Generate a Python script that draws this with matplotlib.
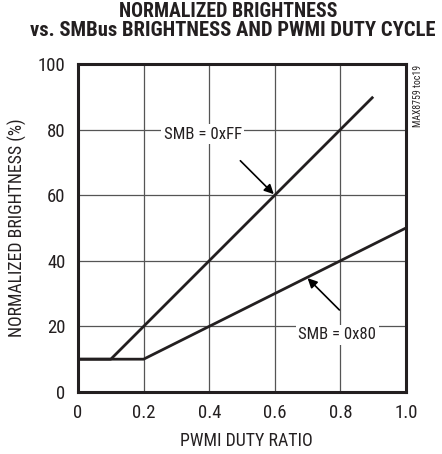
import os
import matplotlib
matplotlib.use('Agg')
import matplotlib.pyplot as plt
from matplotlib import font_manager
from matplotlib.font_manager import FontProperties

# data
duty = [0.0, 0.1, 0.2, 0.4, 0.6, 0.8, 0.9, 1.0]
smb_ff = [10, 10, 20, 40, 60, 80, 90, None]
smb_80 = [10, 10, 10, 20, 30, 40, 45, 50]
x_ticks = [0, 0.2, 0.4, 0.6, 0.8, 1.0]
x_tick_labels = ['0', '0.2', '0.4', '0.6', '0.8', '1.0']
y_ticks = [0, 20, 40, 60, 80, 100]


def find_font(basenames):
    files = {os.path.basename(f.fname): f.fname for f in font_manager.fontManager.ttflist}
    for b in basenames:
        if b in files:
            return files[b]
    return None

reg_file = find_font(['LiberationSansNarrow-Regular.ttf', 'RobotoCondensed-Regular.ttf',
                      'Roboto_Condensed-Regular.ttf', 'DejaVuSansCondensed.ttf',
                      'OpenSans_Condensed-Regular.ttf'])
bold_file = find_font(['RobotoCondensed-Black.ttf', 'RobotoCondensed-ExtraBold.ttf',
                       'LiberationSansNarrow-Bold.ttf', 'RobotoCondensed-Bold.ttf',
                       'Roboto_Condensed-Bold.ttf', 'DejaVuSansCondensed-Bold.ttf',
                       'OpenSans_Condensed-Bold.ttf'])


def fp(size, bold=False):
    f = bold_file if bold else reg_file
    if f:
        return FontProperties(fname=f, size=size)
    return FontProperties(family='DejaVu Sans', size=size, weight='bold' if bold else 'normal')

ink = '#231f20'
fig = plt.figure(figsize=(4.42, 4.54), dpi=100)
ax = fig.add_axes([0.1765, 0.1366, 0.742, 0.7225])

ff_x = [x for x, y in zip(duty, smb_ff) if y is not None]
ff_y = [y for y in smb_ff if y is not None]
ax.plot(ff_x, ff_y, color=ink, lw=2.0, zorder=3, solid_capstyle='butt')
ax.plot(duty, smb_80, color=ink, lw=2.0, zorder=3, solid_capstyle='butt')

ax.set_xlim(0, 1.0)
ax.set_ylim(0, 100)
ax.set_xticks(x_ticks)
ax.set_xticklabels(x_tick_labels)
ax.set_yticks(y_ticks)
ax.grid(True, color='#555555', lw=0.9)
ax.tick_params(length=0, pad=9, colors=ink)
for lab in ax.get_xticklabels() + ax.get_yticklabels():
    lab.set_fontproperties(fp(13.5))
for s in ax.spines.values():
    s.set_linewidth(2.2)
    s.set_color(ink)

# texts placed in figure pixels, then sized to the widths seen in the reference
W, H = 442.0, 454.0
title1 = fig.text(228 / W, 1 - 11.5 / H, 'NORMALIZED BRIGHTNESS', ha='center', va='center',
                  fontproperties=fp(13.5, True), color=ink)
title2 = fig.text(233 / W, 1 - 30 / H, 'vs. SMBus BRIGHTNESS AND PWMI DUTY CYCLE', ha='center',
                  va='center', fontproperties=fp(13.5, True), color=ink)
xlab = fig.text(246 / W, 1 - 441 / H, 'PWMI DUTY RATIO', ha='center', va='center',
                fontproperties=fp(12.5), color=ink)
ylab = fig.text(17 / W, 1 - 228 / H, 'NORMALIZED BRIGHTNESS (%)', ha='center', va='center',
                rotation=90, fontproperties=fp(12.5), color=ink)

bbox = dict(boxstyle='square,pad=0.15', fc='white', ec='none')
lab_ff = ax.text(0.38, 78.5, 'SMB = 0xFF', ha='center', va='center', fontproperties=fp(12.5),
                 color=ink, bbox=bbox, zorder=4)
lab_80 = ax.text(0.79, 17.5, 'SMB = 0x80', ha='center', va='center', fontproperties=fp(12.5),
                 color=ink, bbox=bbox, zorder=4)
arrow = dict(arrowstyle='-|>', color='black', lw=1.2, mutation_scale=14, shrinkA=0, shrinkB=0)
ax.annotate('', xy=(0.597, 60.3), xytext=(0.495, 70.5), arrowprops=arrow, zorder=5)
ax.annotate('', xy=(0.70, 34.7), xytext=(0.797, 25), arrowprops=arrow, zorder=5)

fig.text(0.945, 0.858, 'MAX8759 toc19', rotation=90, ha='center', va='top',
         fontproperties=fp(7), color=ink)

renderer = fig.canvas.get_renderer()
targets = [(title1, 221, False), (title2, 410, False), (xlab, 133, False), (ylab, 219, True),
           (lab_ff, 78, False), (lab_80, 78, False)]
for t, target, vertical in targets:
    bb = t.get_window_extent(renderer)
    size = bb.height if vertical else bb.width
    new = t.get_fontsize() * target / size
    t.set_fontsize(min(new, t.get_fontsize() * 1.5))

fig.savefig('out.png', dpi=100)
